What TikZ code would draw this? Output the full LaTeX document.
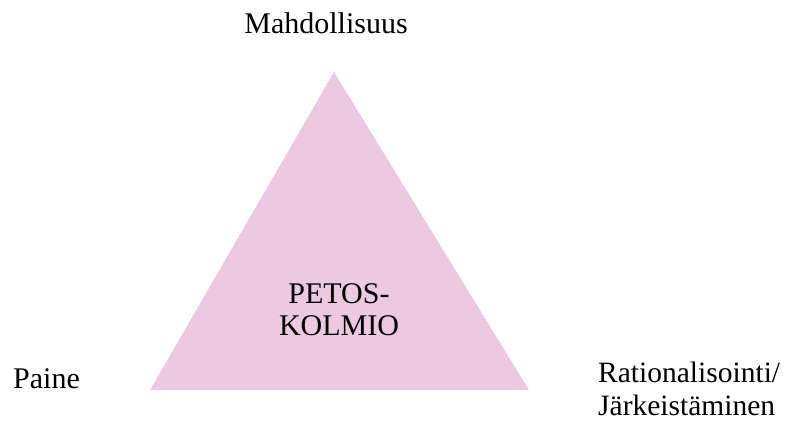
\documentclass[tikz,border=0pt]{standalone}
\usepackage{fontspec}
\setmainfont{Liberation Serif}
\definecolor{trianglepink}{RGB}{236,201,225}
\begin{document}
\begin{tikzpicture}[x=1pt,y=-1pt,
  lbl/.style={inner sep=0pt, font=\fontsize{30}{33}\selectfont, text=black}]
\useasboundingbox (0,0) rectangle (786,421);
\coordinate (apex) at (334,72);
\coordinate (bl) at (150,390);
\coordinate (br) at (529,390);
\fill[trianglepink] (apex) -- (bl) -- (br) -- cycle;
\node[lbl, anchor=base] (top) at (326,33) {Mahdollisuus};
\node[lbl, anchor=base west] (left) at (13,388) {Paine};
\node[lbl, anchor=base, align=center, font=\fontsize{30}{32}\selectfont] (center) at (339,335) {PETOS-\\KOLMIO};
\node[lbl, anchor=base west, align=left, font=\fontsize{29.5}{33}\selectfont] (right) at (598,415) {Rationalisointi/\\Järkeistäminen};
\end{tikzpicture}
\end{document}
